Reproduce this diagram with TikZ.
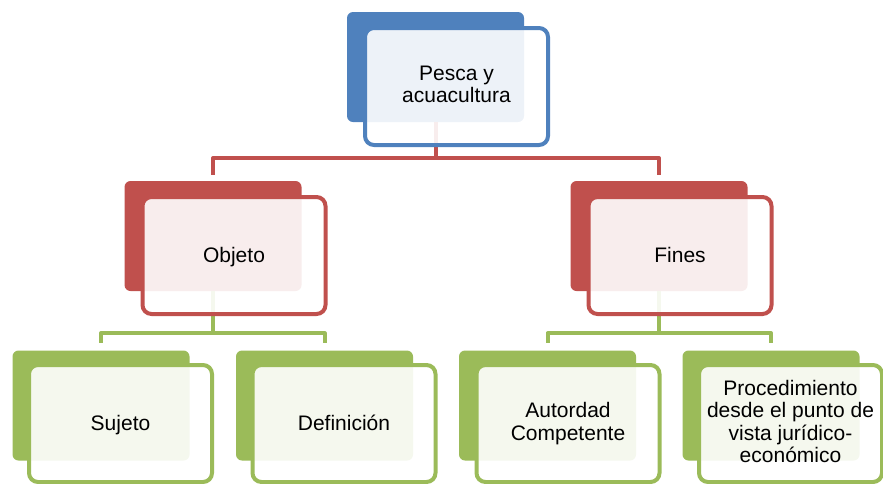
\documentclass[tikz,border=0pt]{standalone}
\usepackage{fontspec}
\setmainfont{Liberation Sans}
\usetikzlibrary{positioning}
\definecolor{hblue}{RGB}{79,129,189}
\definecolor{hred}{RGB}{192,80,77}
\definecolor{hgreen}{RGB}{155,187,89}
\newcommand\topstrut{\rule{0pt}{18.5pt}}
\newcommand\botstrut{\rule[-4pt]{0pt}{4pt}}
\tikzstyle{backbox} = [rectangle, rounded corners=6pt, minimum width=177pt, minimum height=110pt, inner sep=0pt]
\tikzstyle{frontbox} = [rectangle, rounded corners=9pt, minimum width=183pt, minimum height=117pt, inner sep=0pt, line width=4pt, fill=white, fill opacity=0.9, text opacity=1, align=center, font=\fontsize{21}{22.5}\selectfont, execute at begin node=\topstrut, execute at end node=\botstrut]
\tikzstyle{link} = [line width=4pt, line join=round]

\begin{document}
\begin{tikzpicture}[x=1pt, y=-1pt]
\useasboundingbox (0,0) rectangle (883,483);

% Back shapes
\node[backbox, fill=hblue] (pescaB) at (435.5,67) {};
\node[backbox, fill=hred] (objetoB) at (213,236) {};
\node[backbox, fill=hred] (finesB) at (659,236) {};
\node[backbox, fill=hgreen] (sujetoB) at (101,405.5) {};
\node[backbox, fill=hgreen] (definicionB) at (324.5,405.5) {};
\node[backbox, fill=hgreen] (autoridadB) at (547.5,405.5) {};
\node[backbox, fill=hgreen] (procedB) at (771,405.5) {};

% Connectors
\draw[link, hred, shorten >=6pt] (pescaB.south) -- ++(0,36) -| (objetoB.north);
\draw[link, hred, shorten >=6pt] (pescaB.south) -- ++(0,36) -| (finesB.north);
\draw[link, hgreen, shorten >=7pt] (objetoB.south) -- ++(0,42) -| (sujetoB.north);
\draw[link, hgreen, shorten >=7pt] (objetoB.south) -- ++(0,42) -| (definicionB.north);
\draw[link, hgreen, shorten >=7pt] (finesB.south) -- ++(0,42) -| (autoridadB.north);
\draw[link, hgreen, shorten >=7pt] (finesB.south) -- ++(0,42) -| (procedB.north);

% Front shapes with text
\node[frontbox, draw=hblue] (pesca) at (456.5,86.5) {Pesca y\\acuacultura};
\node[frontbox, draw=hred] (objeto) at (234,255.5) {Objeto};
\node[frontbox, draw=hred] (fines) at (680,255.5) {Fines};
\node[frontbox, draw=hgreen] (sujeto) at (120.5,423.5) {Sujeto};
\node[frontbox, draw=hgreen] (definicion) at (344,423.5) {Definición};
\node[frontbox, draw=hgreen] (autoridad) at (568,423.5) {Autordad\\Competente};
\node[frontbox, draw=hgreen] (proced) at (790.5,423.5) {Procedimiento\\desde el punto de\\vista jurídico-\\económico};
\end{tikzpicture}
\end{document}
